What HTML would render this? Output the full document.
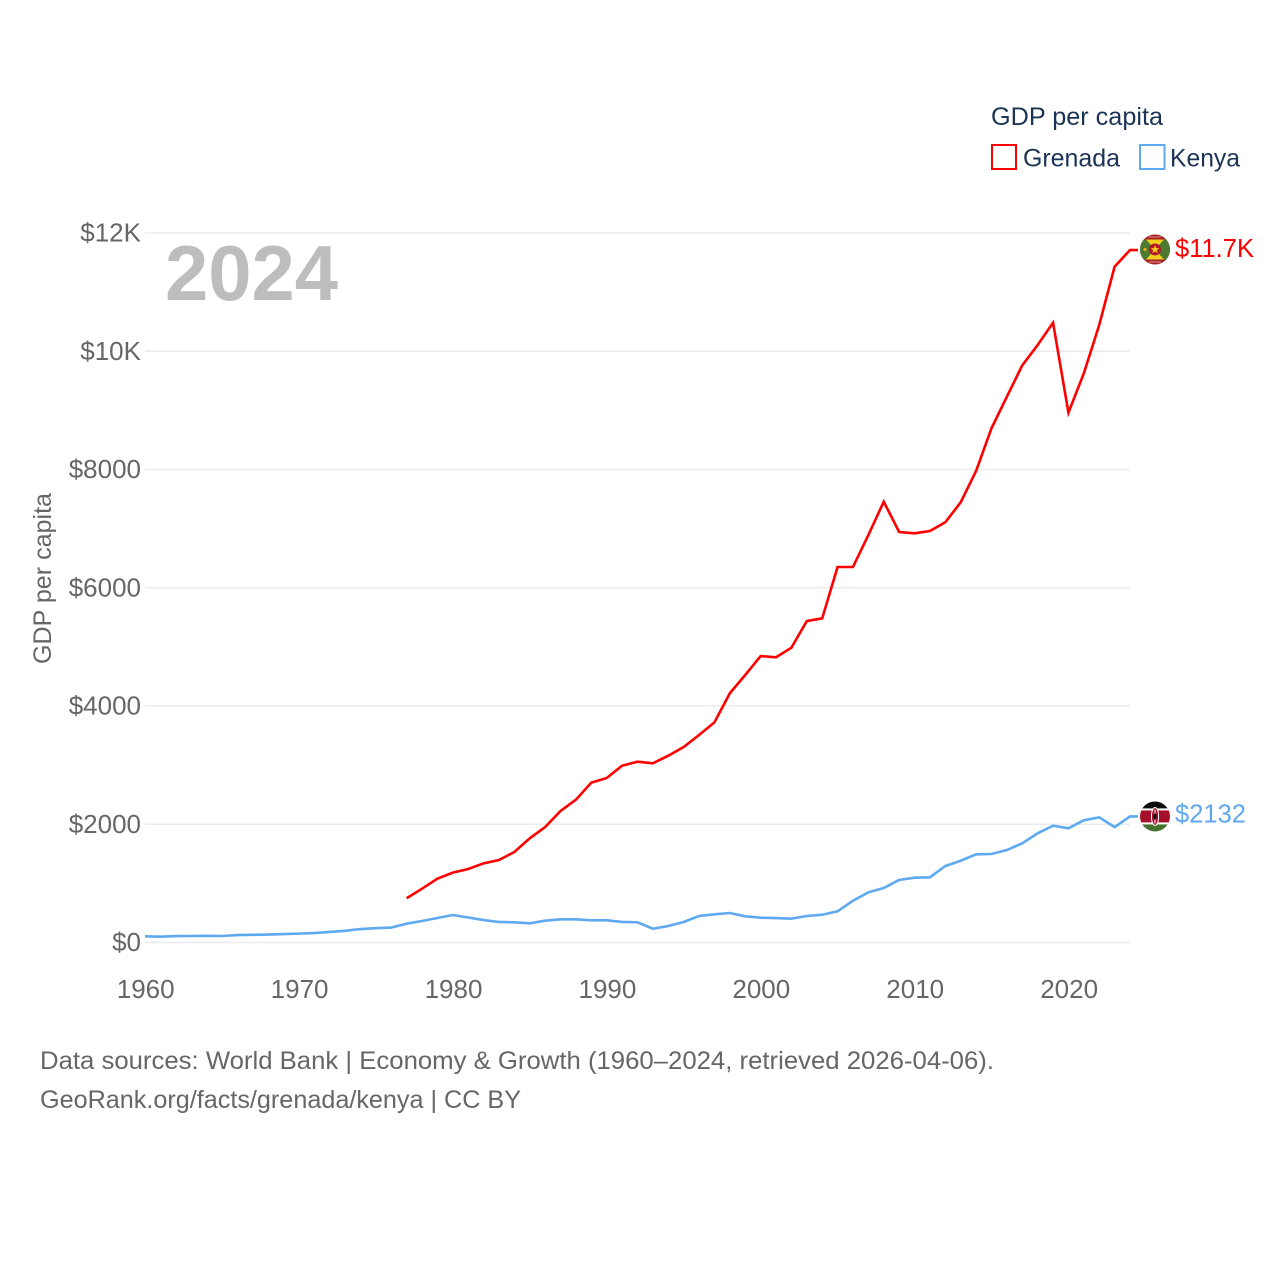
<!DOCTYPE html>
<html lang="en">
<head>
<meta charset="utf-8">
<title>GDP per capita: Grenada and Kenya</title>
<style>
html,body{margin:0;padding:0;background:#fff;width:1280px;height:1280px;overflow:hidden}
svg{display:block}
text{font-family:"Liberation Sans",sans-serif}
</style>
</head>
<body>
<svg id="chart" xmlns="http://www.w3.org/2000/svg" width="1280" height="1280" viewBox="0 0 1280 1280">
  <defs>
    <clipPath id="flag-clip"><circle cx="0" cy="0" r="15"/></clipPath>
  </defs>
  <rect x="0" y="0" width="1280" height="1280" fill="#fff"/>
  <g id="grid"></g>
  <g id="yticks"></g>
  <g id="xticks"></g>
  <text x="165" y="300" font-size="78" font-weight="700" fill="#bdbdbd" textLength="173" lengthAdjust="spacingAndGlyphs">2024</text>
  <text transform="translate(51,664) rotate(-90)" font-size="25" fill="#666" textLength="171" lengthAdjust="spacingAndGlyphs">GDP per capita</text>
  <g id="series"></g>

  <g id="flag-grenada">
    <g clip-path="url(#flag-clip)">
      <rect x="-16" y="-16" width="32" height="32" fill="#a81c2c"/>
      <rect x="-16" y="-10" width="32" height="20" fill="#4c7a2e"/>
      <polygon points="-9,-10 9,-10 0,0" fill="#f2cf1c"/>
      <polygon points="-9,10 9,10 0,0" fill="#f2cf1c"/>
      <circle cx="0" cy="0" r="6" fill="#b4182a"/>
      <polygon points="0,-4.4 1.2,-1.4 4.2,-1.4 1.9,0.6 2.7,3.6 0,1.9 -2.7,3.6 -1.9,0.6 -4.2,-1.4 -1.2,-1.4" fill="#f2cf1c"/>
      <circle cx="-10" cy="0" r="1.6" fill="#e8b020"/>
      <rect x="-6" y="-13" width="12" height="1" fill="#d9a070"/>
      <rect x="-6" y="12" width="12" height="1" fill="#d9a070"/>
    </g>
  </g>
  <g id="flag-kenya">
    <g clip-path="url(#flag-clip)">
      <rect x="-16" y="-16" width="32" height="8" fill="#0b0b0b"/>
      <rect x="-16" y="-8" width="32" height="2" fill="#fff"/>
      <rect x="-16" y="-6" width="32" height="12" fill="#a50f2a"/>
      <rect x="-16" y="6" width="32" height="2" fill="#fff"/>
      <rect x="-16" y="8" width="32" height="8" fill="#46702e"/>
      <ellipse cx="0" cy="0" rx="3.6" ry="9" fill="#a50f2a" stroke="#fff" stroke-width="1"/>
      <rect x="-0.5" y="-7" width="1" height="14" fill="#fff"/>
      <ellipse cx="0" cy="0" rx="1.5" ry="3" fill="#111"/>
    </g>
  </g>
  <text id="label-grenada" x="1175" font-size="25.5" fill="#ff0000" textLength="79" lengthAdjust="spacingAndGlyphs"></text>
  <text id="label-kenya" x="1175" font-size="25.5" fill="#5ea9ef" textLength="71" lengthAdjust="spacingAndGlyphs"></text>

  <g>
    <text x="991" y="125" font-size="25" fill="#1b3354" textLength="172" lengthAdjust="spacingAndGlyphs">GDP per capita</text>
    <g>
      <rect x="992" y="145" width="24" height="24" fill="#fff" stroke="#ff0000" stroke-width="2"/>
      <text x="1023" y="166.500" font-size="25" fill="#1b3354" textLength="97" lengthAdjust="spacingAndGlyphs">Grenada</text>
    </g>
    <g>
      <rect x="1140" y="145" width="24.500" height="24" fill="#fff" stroke="#5ea9ef" stroke-width="2"/>
      <text x="1170" y="166.500" font-size="25" fill="#1b3354" textLength="70" lengthAdjust="spacingAndGlyphs">Kenya</text>
    </g>
  </g>

  <text x="40" y="1069" font-size="25" fill="#666" textLength="954" lengthAdjust="spacingAndGlyphs">Data sources: World Bank | Economy &amp; Growth (1960–2024, retrieved 2026-04-06).</text>
  <text x="40" y="1108" font-size="25" fill="#666" textLength="481" lengthAdjust="spacingAndGlyphs">GeoRank.org/facts/grenada/kenya | CC BY</text>
</svg>
<script>
const yTickValues = [0, 2000, 4000, 6000, 8000, 10000, 12000];
const yTickLabels = ["$0", "$2000", "$4000", "$6000", "$8000", "$10K", "$12K"];
const xTickYears = [1960, 1970, 1980, 1990, 2000, 2010, 2020];
const kenyaStartYear = 1960;
const grenadaStartYear = 1977;
const kenyaValues = [105, 98, 108, 110, 113, 110, 125, 130, 135, 143, 150, 160, 178, 198, 228, 242, 253,
  318, 364, 414, 465, 423, 380, 347, 342, 325, 369, 392, 392, 375, 375, 347, 342, 233, 279, 347, 448, 477, 499, 443,
  419, 414, 403, 448, 470, 528, 707, 849, 922, 1057, 1096, 1103, 1294, 1383, 1492, 1497, 1564, 1678, 1847, 1975,
  1931, 2067, 2117, 1953, 2132];
const grenadaValues = [748, 910, 1079, 1181, 1243, 1339, 1395, 1531, 1762, 1953, 2224, 2415, 2703, 2782, 2990, 3058, 3031,
  3159, 3306, 3509, 3724, 4215, 4524, 4845, 4824, 4986, 5437, 5483, 6351, 6351, 6892, 7455, 6943, 6921, 6960, 7107, 7445,
  7975, 8697, 9231, 9762, 10105, 10483, 8961, 9627, 10444, 11430, 11712];

const NS = "http://www.w3.org/2000/svg";
const xLeft = 145, xRight = 1130, yZero = 942.5, yTop = 233;
const xScale = year => xLeft + (year - 1960) * (xRight - xLeft) / 64;
const yScale = value => yZero - value * (yZero - yTop) / 12000;
const fmt = v => v >= 10000 ? "$" + (v / 1000).toFixed(1) + "K" : "$" + Math.round(v);

const grid = document.getElementById("grid");
const yticks = document.getElementById("yticks");
const xticks = document.getElementById("xticks");
const series = document.getElementById("series");

yTickValues.forEach((v, i) => {
  const line = document.createElementNS(NS, "line");
  line.setAttribute("x1", xLeft);
  line.setAttribute("x2", xRight);
  line.setAttribute("y1", yScale(v));
  line.setAttribute("y2", yScale(v));
  line.setAttribute("stroke", "#ebebeb");
  line.setAttribute("stroke-width", "1.4");
  
  
  grid.appendChild(line);

  const t = document.createElementNS(NS, "text");
  t.setAttribute("x", 141);
  t.setAttribute("y", yScale(v) + 8.5);
  t.setAttribute("text-anchor", "end");
  t.setAttribute("font-size", "26");
  t.setAttribute("fill", "#666");
  t.textContent = yTickLabels[i];
  
  
  yticks.appendChild(t);
});

xTickYears.forEach(year => {
  const t = document.createElementNS(NS, "text");
  t.setAttribute("x", xScale(year) + 0.7);
  t.setAttribute("y", 998);
  t.setAttribute("text-anchor", "middle");
  t.setAttribute("font-size", "26");
  t.setAttribute("fill", "#666");
  t.textContent = year;
  
  
  xticks.appendChild(t);
});

function pointsFor(values, startYear) {
  const pts = values.map((v, i) => xScale(startYear + i).toFixed(2) + "," + yScale(v).toFixed(2));
  pts.push("1138," + yScale(values[values.length - 1]).toFixed(2));
  return pts.join(" ");
}

const grenadaLine = document.createElementNS(NS, "polyline");
grenadaLine.setAttribute("points", pointsFor(grenadaValues, grenadaStartYear));
grenadaLine.setAttribute("fill", "none");
grenadaLine.setAttribute("stroke", "#ff0000");
grenadaLine.setAttribute("stroke-width", "2.6");


series.appendChild(grenadaLine);

const kenyaLine = document.createElementNS(NS, "polyline");
kenyaLine.setAttribute("points", pointsFor(kenyaValues, kenyaStartYear));
kenyaLine.setAttribute("fill", "none");
kenyaLine.setAttribute("stroke", "#5ea9ef");
kenyaLine.setAttribute("stroke-width", "2.6");


series.appendChild(kenyaLine);

const gLast = grenadaValues[grenadaValues.length - 1];
const kLast = kenyaValues[kenyaValues.length - 1];
document.getElementById("flag-grenada").setAttribute("transform", "translate(1155," + (yScale(gLast) - 0.5) + ")");
document.getElementById("flag-kenya").setAttribute("transform", "translate(1155," + yScale(kLast) + ")");
const gLabel = document.getElementById("label-grenada");
gLabel.setAttribute("y", yScale(gLast) + 7);
gLabel.textContent = fmt(gLast);
const kLabel = document.getElementById("label-kenya");
kLabel.setAttribute("y", yScale(kLast) + 6);
kLabel.textContent = fmt(kLast);
</script>
</body>
</html>
